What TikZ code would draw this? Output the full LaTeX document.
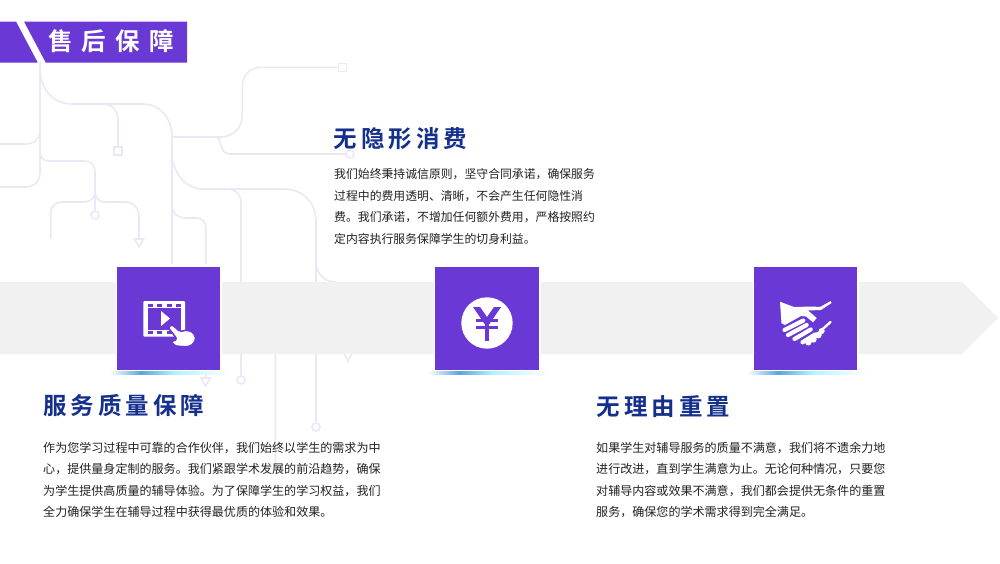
\documentclass[tikz,border=0pt]{standalone}
\usepackage{fontspec}
\setmainfont{Noto Sans CJK SC}
\newfontfamily\boldcjk{Noto Sans CJK SC Bold}
\usetikzlibrary{calc}
\definecolor{purp}{HTML}{6A38D4}
\definecolor{band}{HTML}{F1F1F2}
\definecolor{wire}{HTML}{EAE8F7}
\definecolor{navy}{HTML}{152F8C}
\definecolor{body}{HTML}{222222}
\definecolor{glowb}{HTML}{5AA5DC}
\definecolor{glowc}{HTML}{B4F2FF}
\tikzset{
 wirel/.style={draw=wire,line width=1.6pt,fill=none},
 wiren/.style={draw=wire,line width=1.6pt,fill=white,inner sep=0pt,minimum size=8pt},
 tile/.style={fill=purp,draw=none},
 heading/.style={text=navy,font=\boldcjk\fontsize{23.5}{24}\selectfont,anchor=west,inner sep=0pt},
 para/.style={text=body,font=\fontsize{12.05}{21.3}\selectfont,anchor=north west,inner sep=0pt,align=left,text width=#1},
 paratop/.style={text=body,font=\fontsize{11.85}{21.45}\selectfont,anchor=north west,inner sep=0pt,align=left,text width=#1},
 ic/.style={fill=white,draw=none}
}
\begin{document}
\begin{tikzpicture}[x=1pt,y=-1pt]
\useasboundingbox (0,0) rectangle (1000,563);
\fill[white] (0,0) rectangle (1000,563);
% terminals
\node[wiren] (sqa) at (342.3,67.3) {};
\node[wiren] (sqb) at (118,151) {};
\node[wiren,circle] (ca) at (350,154) {};
\node[wiren,circle] (cb) at (95,215) {};
\node[wiren,circle] (cc) at (241,380) {};
\node[wiren,circle] (cd) at (316,427) {};
% wires
\path[wirel]
 (40,62)--(40,172) .. controls (40,182) and (34,187) .. (25,187)--(0,187)
 (40,131) .. controls (40,139) and (34,144) .. (25,144)--(0,144)
 (40,151) .. controls (40,157) and (43,161) .. (49,161)--(85,161) .. controls (91,161) and (95,165) .. (95,172)--(cb.north)
 (50.7,239)--(50.7,214) .. controls (50.7,206) and (55,202) .. (63,202)--(84,202) .. controls (91,202) and (95,198) .. (95,190)
 (95,190) .. controls (95,198) and (98,202) .. (105,202)--(125,202) .. controls (134,202) and (139,208) .. (139,217)--(139,239)
 (40,70) .. controls (41,91) and (54,104) .. (73,104)--(143,104) .. controls (160,104) and (172,118) .. (172,137)--(172,265)
 (106,104.5) .. controls (114,105) and (118,112) .. (118,121)--(sqb.north)
 (172,137)--(220,137) .. controls (233,137) and (242.3,128) .. (242.3,115)--(242.3,87) .. controls (242.3,75) and (250,67.3) .. (262,67.3)--(sqa.west)
 (217,137) .. controls (222,139) and (219,154) .. (230,154)--(ca.west)
 (172,157) .. controls (175,176) and (187,189) .. (203,189)--(283,189) .. controls (303,189) and (316,202) .. (316,222)--(cd.north)
 (230,189.5) .. controls (237,190.5) and (241,195) .. (241,203)--(cc.north)
 (172,207) .. controls (173,214) and (178,218) .. (187,218)--(197,218) .. controls (202,218) and (205.7,222) .. (205.7,227)--(205.7,378)
 (275.5,354)--(275.5,465)
 (316,265) .. controls (318,275) and (325,282) .. (336,282);
\path[wirel,fill=white] (134.5,239)--(143.5,239)--(139,247)--cycle;
\path[wirel,fill=white] (201,378)--(210.2,378)--(205.6,386)--cycle;
\path[wirel,fill=white] (343.5,352)--(352.5,352)--(348,361.5)--cycle;
% band
\fill[band] (0,282)--(962,282)--(998,318)--(962,354)--(0,354)--cycle;
% tiles
\foreach \n/\x/\w in {a/117/103,b/435/104,c/754/103}{
 \fill[white] (\x-1,264) rectangle (\x+\w+2,371);
 \shade[left color=white,right color=glowb] (\x-7,371) rectangle (\x+24,374);
 \shade[left color=glowb,right color=glowc] (\x+24,371) rectangle (\x+58,374);
 \shade[left color=glowc,right color=white] (\x+58,371) rectangle (\x+\w+10,374);
 \fill[tile] (\x,267) rectangle (\x+\w,370);
}
% icon film
\begin{scope}[shift={(125,285)}]
 \fill[ic,rounded corners=1pt] (18.3,16) rectangle (60,51.7);
 \fill[purp] (23.3,23.3) rectangle (55.5,45);
 \foreach \i in {23.3,32.3,42,51}{\fill[purp] (\i,19.3) rectangle (\i+4.7,21.7); \fill[purp] (\i,46.3) rectangle (\i+4.7,49);}
 \fill[ic] (36,26)--(45,33.5)--(36,41)--cycle;
 \path[fill=white,draw=purp,line width=1.6pt,rounded corners=1.6pt] (43,42.5)--(47,39.5)--(55,46.5)--(62,45)--(68.5,47.5)--(71,54)--(68,59.5)--(62,62)--(50,61)--(46,56.5)--(52,54.5)--(49,50)--cycle;
\end{scope}
% icon yen
\fill[ic] (487,323) circle (25.7);
\fill[purp] (473,307)--(480,307)--(487,317)--(494,307)--(501,307)--(489.4,324)--(484.6,324)--cycle;
\fill[purp] (484.6,322) rectangle (489.4,340.7);
\fill[purp] (476,318.7) rectangle (498,321.5);
\fill[purp] (476,326) rectangle (498,329);
% icon handshake
\fill[ic] (780,301.7)--(794,307)--(812,306.5)--(820,307)--(830.7,301)--(831.5,303)--(821,310)--(808,310.5)--(812,314)--(816.7,318)--(813,322.3)--(806,316.5)--(801,316)--(785,325)--(781.5,323.3)--cycle;
\begin{scope}[draw=white,line width=4.2pt,line cap=round]
 \draw (784.5,330)--(803.3,320.5);
 \draw (788,335)--(806.7,325);
 \draw (794.5,339)--(810.7,329.5);
 \draw (802.5,342.3)--(815,334.5);
\end{scope}
\fill[ic] (808.3,342.3) circle (3.2) (813.3,339.3) circle (3.4) (818.3,335) circle (3.4) (821.7,331) circle (3);
\draw[white,line width=2.4pt,line cap=round] (821.7,330)--(830.5,322);
% header
\fill[purp] (0,21.5)--(16,21.5)--(37.7,62.5)--(0,62.5)--cycle;
\fill[purp] (24,21.5)--(187,21.5)--(187,62.5)--(45.7,62.5)--cycle;
\node[text=white,font=\boldcjk\fontsize{24.5}{25}\selectfont,anchor=west,inner sep=0pt] (title) at (48,41.5) {售\hspace{9.3pt}后\hspace{9.3pt}保\hspace{9.3pt}障};
% headings
\node[heading] (ha) at (333.5,138.5) {无\hspace{4pt}隐\hspace{4pt}形\hspace{4pt}消\hspace{4pt}费};
\node[heading] (hb) at (43,405.5) {服\hspace{4pt}务\hspace{4pt}质\hspace{4pt}量\hspace{4pt}保\hspace{4pt}障};
\node[heading] (hc) at (596.5,406.5) {无\hspace{4pt}理\hspace{4pt}由\hspace{4pt}重\hspace{4pt}置};
\node[paratop=270pt] (pa) at (334,168.7) {我们始终秉持诚信原则，坚守合同承诺，确保服务\\过程中的费用透明、清晰，不会产生任何隐性消\\费。我们承诺，不增加任何额外费用，严格按照约\\定内容执行服务保障学生的切身利益。};
\node[para=360pt] (pb) at (43,442) {作为您学习过程中可靠的合作伙伴，我们始终以学生的需求为中\\心，提供量身定制的服务。我们紧跟学术发展的前沿趋势，确保\\为学生提供高质量的辅导体验。为了保障学生的学习权益，我们\\全力确保学生在辅导过程中获得最优质的体验和效果。};
\node[para=310pt] (pc) at (596,442) {如果学生对辅导服务的质量不满意，我们将不遗余力地\\进行改进，直到学生满意为止。无论何种情况，只要您\\对辅导内容或效果不满意，我们都会提供无条件的重置\\服务，确保您的学术需求得到完全满足。};
\end{tikzpicture}
\end{document}
